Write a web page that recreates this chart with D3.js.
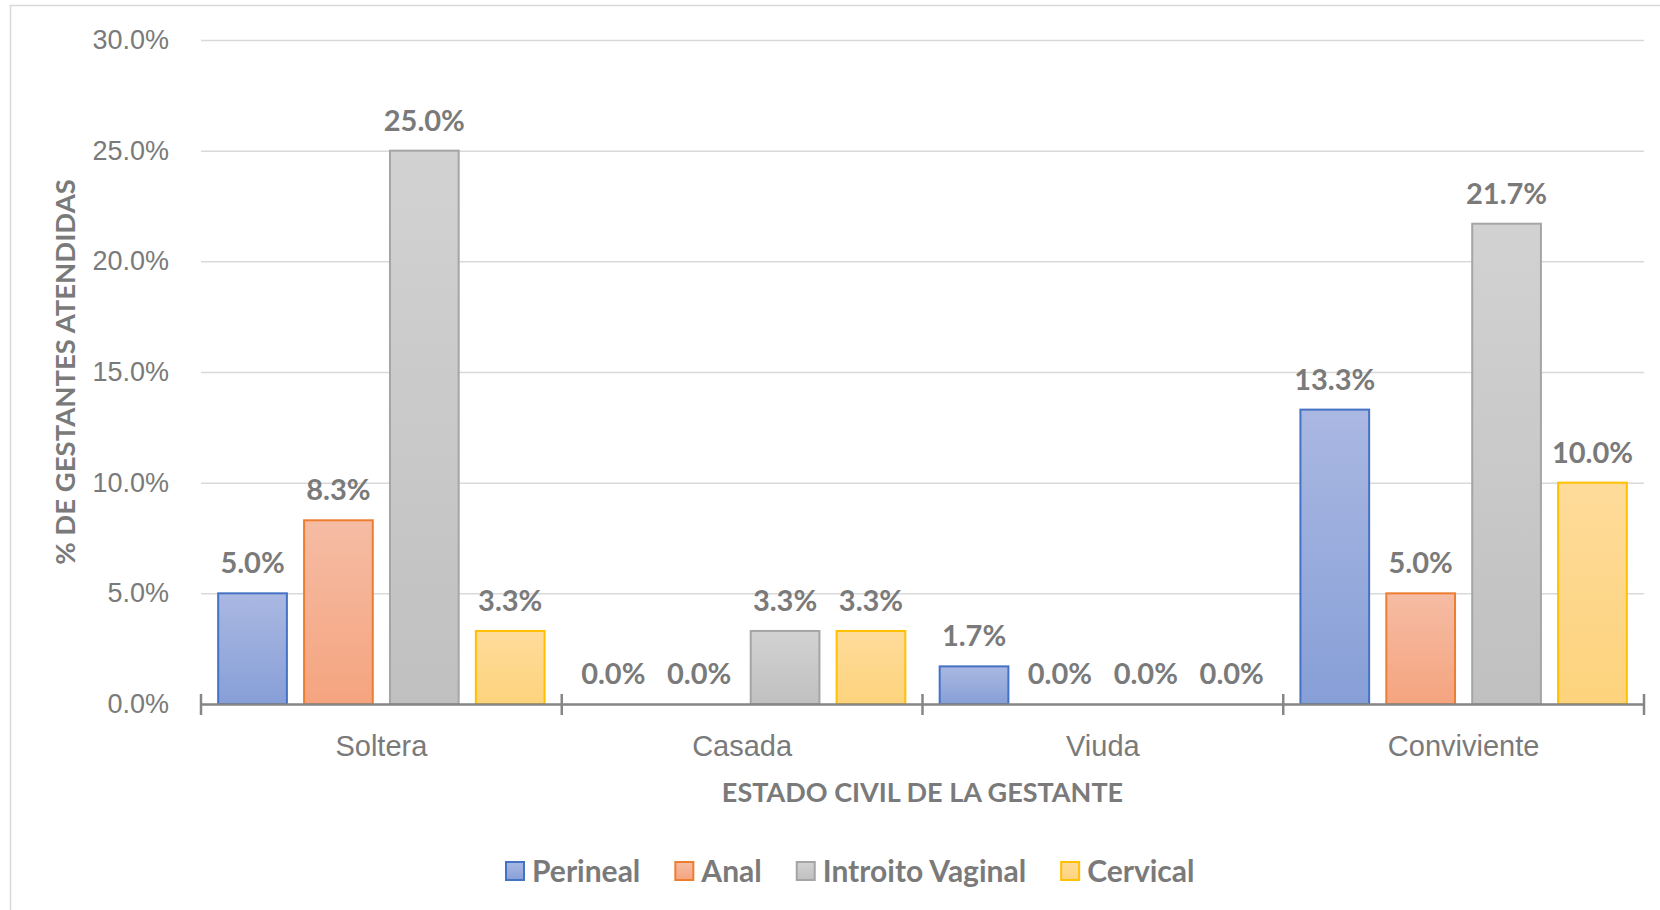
<!DOCTYPE html>
<html>
<head>
<meta charset="utf-8">
<script src="https://cdn.jsdelivr.net/npm/d3@7"></script>
<style>
  body { margin: 0; background: #fff; }
  svg { font-family: Lato, "Open Sans", sans-serif; }
</style>
</head>
<body>
<div id="chart"></div>
<script>
// data (percent)
const categories = ["Soltera", "Casada", "Viuda", "Conviviente"];
const seriesNames = ["Perineal", "Anal", "Introito Vaginal", "Cervical"];
const perineal = [5.0, 0.0, 1.7, 13.3];
const anal = [8.3, 0.0, 0.0, 5.0];
const introito = [25.0, 3.3, 0.0, 21.7];
const cervical = [3.3, 3.3, 0.0, 10.0];
const yTicks = [0, 5, 10, 15, 20, 25, 30];

const seriesValues = [perineal, anal, introito, cervical];
const colors = [
  { top: "#aab8e2", bottom: "#879fd7", stroke: "#4472c4" },
  { top: "#f5bca4", bottom: "#f5a47f", stroke: "#ed7d31" },
  { top: "#d2d2d2", bottom: "#c0c0c0", stroke: "#a5a5a5" },
  { top: "#fedb9a", bottom: "#fdd37c", stroke: "#ffc000" }
];

const width = 1660, height = 910;
const margin = { top: 40, right: 16, bottom: 206, left: 201 };
const textColor = "#7a7a7a";

const svg = d3.select("#chart").append("svg")
    .attr("width", width)
    .attr("height", height);

// chart area border
svg.append("rect")
    .attr("x", 10.5).attr("y", 5.5)
    .attr("width", width).attr("height", height)
    .attr("fill", "none")
    .attr("stroke", "#d9d9d9")
    .attr("stroke-width", 1.5);

const defs = svg.append("defs");
colors.forEach((c, i) => {
  let g = defs.append("linearGradient")
      .attr("id", "grad" + i)
      .attr("x1", 0).attr("y1", 0).attr("x2", 0).attr("y2", 1);
  g.append("stop").attr("offset", "0%").attr("stop-color", c.top);
  g.append("stop").attr("offset", "100%").attr("stop-color", c.bottom);
});

const plotW = width - margin.left - margin.right;
const plotH = height - margin.top - margin.bottom;

const g = svg.append("g")
    .attr("transform", "translate(" + margin.left + "," + margin.top + ")");

const x0 = d3.scaleBand()
    .domain(categories)
    .range([0, plotW]);

const x1 = d3.scaleBand()
    .domain(seriesNames)
    .range([0, x0.bandwidth()])
    .paddingInner(0.2)
    .paddingOuter(0.2);

const y = d3.scaleLinear()
    .domain([0, 30])
    .range([plotH, 0]);

// gridlines + y labels
const yAxis = g.append("g")
    .call(d3.axisLeft(y)
      .tickValues(yTicks)
      .tickSize(-plotW)
      .tickPadding(32)
      .tickFormat(d => d.toFixed(1) + "%"));
yAxis.select(".domain").remove();
yAxis.selectAll("line")
    .attr("stroke", "#d9d9d9")
    .attr("stroke-width", 1.5);
yAxis.selectAll("text")
    .attr("fill", textColor)
    .style("font-size", "27px");

// bars
const barData = [];
categories.forEach((cat, ci) => {
  seriesNames.forEach((s, si) => {
    barData.push({ cat: cat, series: s, si: si, value: seriesValues[si][ci] });
  });
});

const groups = g.selectAll(".bar")
    .data(barData)
  .enter().append("g")
    .attr("class", "bar")
    .attr("transform", d => "translate(" + (x0(d.cat) + x1(d.series)) + ",0)");

groups.filter(d => d.value > 0).append("rect")
    .attr("x", 0)
    .attr("y", d => y(d.value))
    .attr("width", x1.bandwidth())
    .attr("height", d => y(0) - y(d.value))
    .attr("fill", d => "url(#grad" + d.si + ")")
    .attr("stroke", d => colors[d.si].stroke)
    .attr("stroke-width", 2);

groups.append("text")
    .attr("x", x1.bandwidth() / 2)
    .attr("y", d => y(d.value) - 20)
    .attr("text-anchor", "middle")
    .attr("fill", textColor)
    .style("font-size", "29px")
    .style("font-weight", "bold")
    .text(d => d.value.toFixed(1) + "%");

// x axis
const xAxis = g.append("g")
    .attr("transform", "translate(0," + plotH + ")")
    .call(d3.axisBottom(x0).tickSize(0).tickPadding(31));
xAxis.select(".domain")
    .attr("stroke", "#868686")
    .attr("stroke-width", 2.5);
xAxis.selectAll("text")
    .attr("fill", textColor)
    .style("font-size", "29px");

// category boundary ticks (cross the axis)
const bounds = categories.map(c => x0(c)).concat([plotW]);
g.selectAll(".bound")
    .data(bounds)
  .enter().append("line")
    .attr("class", "bound")
    .attr("x1", d => d).attr("x2", d => d)
    .attr("y1", plotH - 10).attr("y2", plotH + 11)
    .attr("stroke", "#868686")
    .attr("stroke-width", 2.5);

// axis titles
svg.append("text")
    .attr("x", margin.left + plotW / 2)
    .attr("y", 802)
    .attr("text-anchor", "middle")
    .attr("fill", textColor)
    .style("font-size", "27px")
    .style("font-weight", "bold")
    .text("ESTADO CIVIL DE LA GESTANTE");

svg.append("text")
    .attr("transform", "translate(75," + (margin.top + plotH / 2) + ") rotate(-90)")
    .attr("text-anchor", "middle")
    .attr("fill", textColor)
    .style("font-size", "27.5px")
    .style("font-weight", "bold")
    .text("% DE GESTANTES ATENDIDAS");

// legend
const legend = svg.append("g");
const items = legend.selectAll(".item")
    .data(seriesNames)
  .enter().append("g")
    .attr("class", "item");
items.append("rect")
    .attr("width", 18).attr("height", 18)
    .attr("y", -9)
    .attr("fill", (d, i) => "url(#grad" + i + ")")
    .attr("stroke", (d, i) => colors[i].stroke)
    .attr("stroke-width", 2);
items.append("text")
    .attr("x", 26)
    .attr("dy", "0.36em")
    .attr("fill", textColor)
    .style("font-size", "30px")
    .style("font-weight", "bold")
    .text(d => d);

let offset = 0;
const positions = [];
items.each(function() {
  positions.push(offset);
  offset += this.getBBox().width + 35;
});
items.attr("transform", (d, i) => "translate(" + positions[i] + ",0)");
legend.attr("transform", "translate(506,871)");
</script>
</body>
</html>
